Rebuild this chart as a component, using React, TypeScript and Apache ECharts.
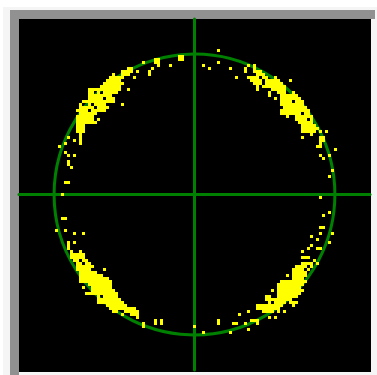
import React, { useEffect, useRef } from "react";
import * as echarts from "echarts";

// Constellation plot, values in cell units
// (117 x 117 cell grid, center cell 58). Each run: [row, firstCol, lastCol].
type Run = [number, number, number];

const CENTER = 58;
const CIRCLE_RADIUS = 46.8;

const topLeftRuns: Run[] = [
  [13, 45, 46], [14, 41, 41], [14, 45, 46], [15, 46, 46],
  [16, 36, 37], [16, 44, 44],
  [17, 34, 37], [17, 39, 39], [17, 43, 43],
  [18, 31, 31], [18, 34, 36], [18, 43, 43],
  [19, 30, 34], [19, 38, 38],
  [20, 29, 33], [21, 28, 34], [22, 27, 33],
  [23, 23, 33], [23, 36, 36],
  [24, 23, 24], [24, 26, 26], [24, 28, 32],
  [25, 23, 30],
  [26, 23, 27], [26, 29, 31],
  [27, 21, 31],
  [28, 20, 20], [28, 23, 23], [28, 25, 28], [28, 34, 34],
  [29, 20, 24], [29, 26, 29],
  [30, 19, 22], [30, 24, 28],
  [31, 20, 25], [32, 19, 24],
  [33, 19, 24], [33, 26, 26],
  [34, 19, 25], [35, 19, 21], [36, 19, 21], [37, 19, 21],
  [38, 20, 20], [39, 16, 16], [39, 20, 20],
  [40, 18, 18], [40, 20, 20], [41, 15, 15], [41, 20, 20],
];

const topRightRuns: Run[] = [
  [15, 78, 78], [16, 78, 78], [17, 79, 80], [18, 79, 81],
  [19, 77, 79], [19, 81, 82], [19, 85, 85],
  [20, 77, 80], [20, 82, 86], [20, 90, 90],
  [21, 78, 80], [21, 82, 87],
  [22, 79, 79], [22, 81, 88],
  [23, 79, 79], [23, 84, 88],
  [24, 83, 83], [24, 86, 88], [24, 91, 91],
  [25, 83, 83], [25, 87, 92],
  [26, 85, 85], [26, 87, 93],
  [27, 87, 90], [27, 92, 94],
  [28, 87, 94], [29, 88, 95], [30, 87, 96],
  [31, 87, 93], [31, 95, 96],
  [32, 89, 89], [32, 92, 97],
  [33, 92, 95], [33, 97, 97],
  [34, 93, 97], [35, 94, 98], [36, 94, 99],
  [37, 94, 98], [37, 100, 100], [37, 102, 102],
  [38, 97, 97], [39, 94, 94], [39, 100, 101],
  [40, 100, 101], [41, 100, 100], [42, 99, 100], [43, 105, 105],
];

const bottomLeftRuns: Run[] = [
  [74, 16, 16], [74, 18, 18], [75, 16, 16], [76, 16, 16],
  [77, 17, 17], [77, 20, 20],
  [78, 17, 21], [79, 17, 21],
  [80, 18, 19], [80, 21, 22],
  [81, 19, 20], [81, 22, 23],
  [82, 19, 24], [83, 19, 23], [83, 28, 28],
  [84, 20, 25], [85, 20, 27], [86, 20, 29], [87, 20, 30],
  [88, 23, 30], [89, 21, 21], [89, 24, 30],
  [90, 24, 31], [91, 22, 32],
  [92, 26, 26], [92, 28, 32],
  [93, 26, 33], [94, 26, 34], [95, 29, 35], [96, 30, 38],
  [97, 31, 32], [97, 35, 39],
  [98, 34, 34], [98, 37, 39],
  [99, 39, 39], [100, 45, 45], [101, 41, 41],
];

const bottomRightRuns: Run[] = [
  [73, 99, 99], [74, 103, 103], [75, 97, 97],
  [76, 96, 96], [76, 99, 100], [77, 94, 94],
  [79, 94, 96], [80, 98, 98],
  [81, 94, 97], [81, 99, 99],
  [82, 92, 95], [82, 97, 97],
  [83, 91, 94], [83, 96, 96],
  [84, 91, 95], [85, 89, 89], [85, 91, 95],
  [86, 91, 94], [87, 87, 95], [88, 86, 94], [89, 86, 93],
  [90, 84, 84], [90, 86, 94], [91, 86, 93],
  [92, 82, 83], [92, 86, 92], [93, 82, 90],
  [94, 83, 83], [94, 85, 88], [94, 90, 92],
  [95, 79, 87], [95, 91, 91], [96, 79, 86],
  [97, 76, 76], [97, 81, 84], [97, 86, 86], [97, 88, 88],
  [98, 73, 73], [99, 83, 83], [99, 85, 85],
  [100, 77, 79], [101, 71, 72], [101, 75, 75], [101, 79, 79],
  [103, 76, 76], [104, 70, 70],
];

// isolated points: [col, row]
const sparsePoints: [number, number][] = [
  [50, 15], [53, 12], [54, 12], [53, 13], [54, 13], [66, 10], [66, 14],
  [61, 15], [63, 16], [70, 16], [72, 19], [75, 16], [75, 17], [76, 15],
  [76, 19], [78, 17],
  [13, 42], [15, 44], [16, 45], [18, 45], [16, 47], [16, 48], [17, 49],
  [15, 54], [16, 54], [14, 58], [14, 66], [15, 66], [12, 70], [15, 70],
  [18, 71], [21, 71],
  [100, 45], [101, 46], [103, 45], [104, 50], [103, 52], [100, 59],
  [103, 64], [101, 65], [100, 69], [101, 69], [100, 71], [104, 71],
  [97, 72],
  [39, 98], [41, 102], [45, 101], [47, 100], [47, 101], [58, 102],
  [61, 104], [66, 100], [66, 101], [76, 97],
];

function runsToPoints(runs: Run[]): number[][] {
  const pts: number[][] = [];
  for (const [row, c0, c1] of runs) {
    for (let c = c0; c <= c1; c++) pts.push([c - CENTER, CENTER - row]);
  }
  return pts;
}

export default function App() {
  const ref = useRef<HTMLDivElement>(null);
  useEffect(() => {
    if (!ref.current) return;
    const chart = echarts.init(ref.current, undefined, { renderer: "svg" });
    const points = [
      ...runsToPoints(topLeftRuns),
      ...runsToPoints(topRightRuns),
      ...runsToPoints(bottomLeftRuns),
      ...runsToPoints(bottomRightRuns),
      ...sparsePoints.map(([c, r]) => [c - CENTER, CENTER - r]),
    ];
    const axisCommon = {
      type: "value" as const,
      min: -58.5,
      max: 58.5,
      axisLine: { show: true, onZero: true, lineStyle: { color: "#008000", width: 3 } },
      axisTick: { show: false },
      axisLabel: { show: false },
      splitLine: { show: false },
    };
    chart.setOption({
      animation: false,
      backgroundColor: "#ffffff",
      graphic: [
        { type: "rect", z: -10, silent: true, shape: { x: 3, y: 7, width: 374, height: 368 }, style: { fill: "#f5f5f5" } },
        { type: "rect", z: -9, silent: true, shape: { x: 10, y: 10, width: 365, height: 9 }, style: { fill: "#919191" } },
        { type: "rect", z: -9, silent: true, shape: { x: 10, y: 10, width: 9, height: 365 }, style: { fill: "#919191" } },
        { type: "rect", z: -8, silent: true, shape: { x: 19, y: 19, width: 352, height: 353 }, style: { fill: "#000000" } },
      ],
      grid: { left: 19, top: 19, width: 351, height: 351, show: false },
      xAxis: axisCommon,
      yAxis: axisCommon,
      series: [
        {
          type: "custom",
          z: 2,
          silent: true,
          data: [[0, 0, CIRCLE_RADIUS]],
          renderItem: (_params: any, api: any) => {
            const c = api.coord([api.value(0), api.value(1)]);
            const r = api.size([api.value(2), 0])[0];
            return {
              type: "circle",
              shape: { cx: c[0], cy: c[1], r },
              style: { fill: "none", stroke: "#008000", lineWidth: 3 },
            };
          },
        },
        {
          type: "scatter",
          z: 3,
          silent: true,
          symbol: "rect",
          symbolSize: 3,
          itemStyle: { color: "#ffff00", opacity: 1 },
          data: points,
        },
      ],
    });
    return () => chart.dispose();
  }, []);
  return (
    <div
      ref={ref}
      style={{ position: "fixed", left: 0, top: 0, width: 377, height: 375, background: "#fff" }}
    />
  );
}
